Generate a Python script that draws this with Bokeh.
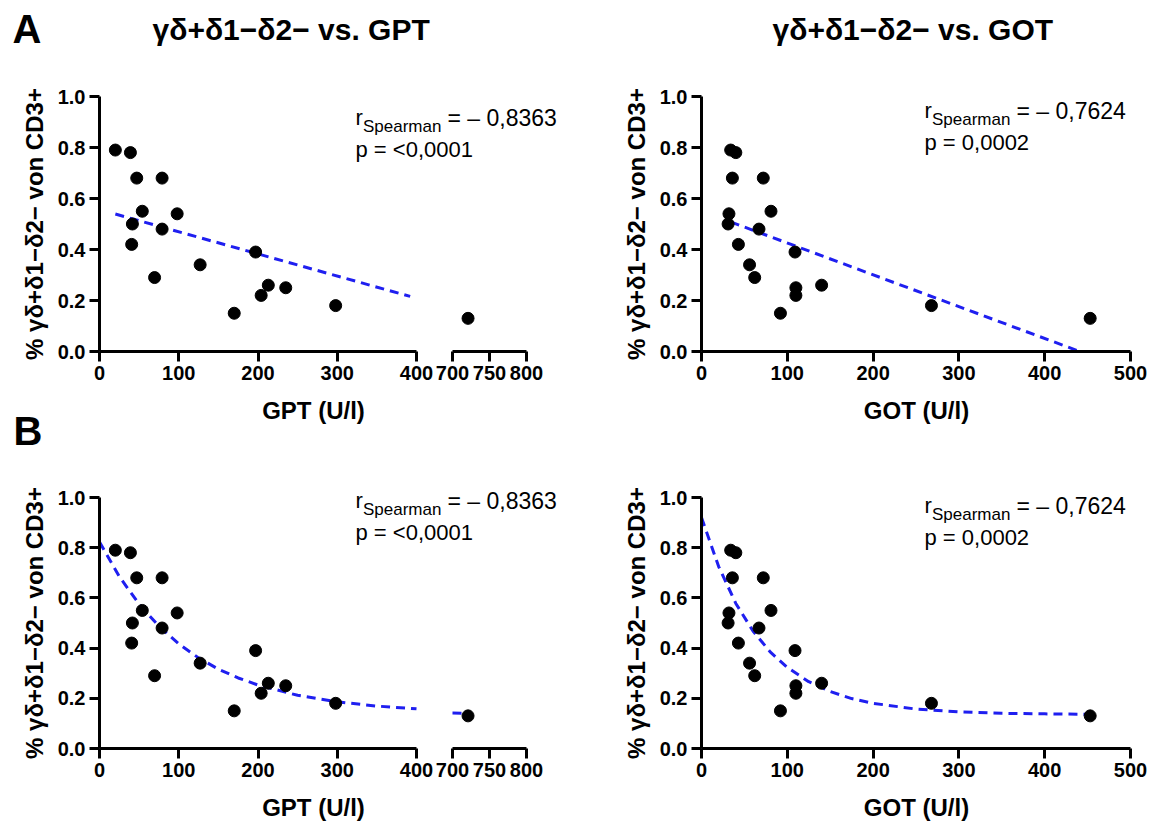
import math
from bokeh.plotting import figure
from bokeh.models import Range1d, LinearAxis, FixedTicker, Label, NumeralTickFormatter
from bokeh.layouts import column, row
from bokeh.embed import file_html
from bokeh.resources import INLINE

# ---------------- data ----------------
pct_cd3 = [0.79, 0.78, 0.68, 0.68, 0.55, 0.54, 0.50, 0.48, 0.42, 0.39,
           0.34, 0.29, 0.26, 0.25, 0.22, 0.18, 0.15, 0.13]
gpt_ul = [20, 39, 47, 79, 54, 98, 41.5, 79, 40.6, 197,
          127, 69.5, 213, 235, 204, 298, 170, 721]
got_ul = [34, 40, 36, 72, 81, 32, 31, 67, 43, 109,
          56, 62, 140, 110, 110, 268, 92, 453]

# linear regression lines (panel A)
gpt_lin_x = [20, 392]
gpt_lin_y = [0.539, 0.216]
got_lin_x = [34, 441]
got_lin_y = [0.508, 0.0]

# one-phase decay curves (panel B)
gpt_decay_x = [0, 25, 50, 75, 100, 125, 150, 175, 200, 250, 300, 350, 400]
gpt_decay_y = [0.823, 0.685, 0.575, 0.487, 0.417, 0.361, 0.316, 0.281,
               0.253, 0.212, 0.186, 0.169, 0.158]
gpt_decay_brk_x = [700, 721]
gpt_decay_brk_y = [0.141, 0.140]
got_decay_x = [0, 20, 40, 60, 80, 100, 125, 150, 175, 200, 250, 300, 350, 400, 453]
got_decay_y = [0.920, 0.725, 0.578, 0.468, 0.385, 0.323, 0.266, 0.227, 0.199,
               0.180, 0.157, 0.146, 0.140, 0.138, 0.136]

y_ticks = [0.0, 0.2, 0.4, 0.6, 0.8, 1.0]
gpt_ticks = [0, 100, 200, 300, 400]
gpt_brk_ticks = [700, 750, 800]
got_ticks = [0, 100, 200, 300, 400, 500]

title_gpt = "γδ+δ1−δ2− vs. GPT"
title_got = "γδ+δ1−δ2− vs. GOT"
y_label = "% γδ+δ1−δ2− von CD3+"
x_label_gpt = "GPT (U/l)"
x_label_got = "GOT (U/l)"
r_gpt = "= – 0,8363"
p_gpt = "p = <0,0001"
r_got = "= – 0,7624"
p_got = "p = 0,0002"

# ---------------- styling / layout constants (pixels) ----------------
FONT = "Liberation Sans"
BLUE = "#1f1ff0"
DASH = "9 6"
DOT = 12
W_GPT, W_GOT = 606, 546
H_TOP, H_BOT = 452, 370


class Frame:
    """maps canvas pixels (top-down) to data units; sizes ranges and places texts"""

    def __init__(self, W, H, xa, pxa, xb, pxb, py0, py1):
        self.ux = (xb - xa) / (pxb - pxa)
        self.x0 = xa - pxa * self.ux
        self.x1 = xa + (W - pxa) * self.ux
        self.uy = 1.0 / (py0 - py1)
        self.y0 = -(H - py0) * self.uy
        self.y1 = 1 + py1 * self.uy

    def dx(self, px):
        return self.x0 + px * self.ux

    def dy(self, py):
        return self.y1 - py * self.uy


def style_axis(ax, ticks):
    ax.ticker = FixedTicker(ticks=ticks)
    ax.axis_line_width = 3
    ax.axis_line_color = "black"
    ax.major_tick_line_width = 3
    ax.major_tick_line_color = "black"
    ax.major_tick_out = 10
    ax.major_tick_in = 0
    ax.minor_tick_line_color = None
    ax.major_label_text_font = FONT
    ax.major_label_text_font_style = "bold"
    ax.major_label_text_font_size = "20px"
    ax.major_label_text_color = "black"
    ax.major_label_standoff = 4


def text(p, fr, px, py, s, size, bold=True, align="left", angle=0.0):
    # (px, py) = canvas pixel of the text's left/centre edge and vertical middle
    p.add_layout(Label(x=fr.dx(px), y=fr.dy(py), text=s, angle=angle,
                       text_font=FONT, text_font_size=size,
                       text_font_style="bold" if bold else "normal",
                       text_align=align, text_baseline="middle",
                       text_color="black"))


def base(W, H, fr):
    p = figure(width=W, height=H, title=None,
               min_border_left=0, min_border_right=0,
               min_border_top=0, min_border_bottom=0,
               x_range=Range1d(fr.x0, fr.x1), y_range=Range1d(fr.y0, fr.y1),
               x_axis_type=None, y_axis_type=None,
               output_backend="svg", toolbar_location=None)
    p.outline_line_color = None
    p.background_fill_color = "white"
    p.border_fill_color = "white"
    ya = LinearAxis(bounds=(0, 1), fixed_location=0,
                    formatter=NumeralTickFormatter(format="0.0"))
    style_axis(ya, y_ticks)
    p.add_layout(ya, "left")
    return p


def stats(p, fr, px, py, rtxt, ptxt, dp):
    text(p, fr, px, py, "r", "22px", bold=False)
    text(p, fr, px + 7.5, py + 9, "Spearman", "17px", bold=False)
    text(p, fr, px + 92, py, rtxt, "23px", bold=False)
    text(p, fr, px, py + dp, ptxt, "22px", bold=False)


def gpt_panel(H, py1, py0, kind, sy):
    fr = Frame(W_GPT, H, 0, 99, 400, 416, py0, py1)
    br = Frame(W_GPT, H, 700, 452, 800, 526, py0, py1)
    p = base(W_GPT, H, fr)
    p.extra_x_ranges = {"brk": Range1d(br.x0, br.x1)}
    xa = LinearAxis(bounds=(0, 400), fixed_location=0)
    style_axis(xa, gpt_ticks)
    p.add_layout(xa, "below")
    xb = LinearAxis(x_range_name="brk", bounds=(700, 800), fixed_location=0)
    style_axis(xb, gpt_brk_ticks)
    p.add_layout(xb, "below")

    if kind == "lin":
        p.line(gpt_lin_x, gpt_lin_y, line_color=BLUE, line_width=3, line_dash=DASH)
    else:
        p.line(gpt_decay_x, gpt_decay_y, line_color=BLUE, line_width=3, line_dash=DASH)
        p.line(gpt_decay_brk_x, gpt_decay_brk_y, line_color=BLUE, line_width=3,
               line_dash=DASH, x_range_name="brk")
    lo_x = [g for g in gpt_ul if g <= 400]
    lo_y = [v for g, v in zip(gpt_ul, pct_cd3) if g <= 400]
    hi_x = [g for g in gpt_ul if g > 400]
    hi_y = [v for g, v in zip(gpt_ul, pct_cd3) if g > 400]
    p.scatter(lo_x, lo_y, size=DOT, color="black")
    p.scatter(hi_x, hi_y, size=DOT, color="black", x_range_name="brk")

    mid = (py0 + py1) / 2
    text(p, fr, 34, mid, y_label, "24px", align="center", angle=math.pi / 2)
    text(p, fr, 313, py0 + 59, x_label_gpt, "24px", align="center")
    stats(p, fr, 355, sy, r_gpt, p_gpt, 32)
    return p, fr


def got_panel(H, py1, py0, kind, sy):
    fr = Frame(W_GOT, H, 0, 95, 500, 524, py0, py1)
    p = base(W_GOT, H, fr)
    xa = LinearAxis(bounds=(0, 500), fixed_location=0)
    style_axis(xa, got_ticks)
    p.add_layout(xa, "below")
    if kind == "lin":
        p.line(got_lin_x, got_lin_y, line_color=BLUE, line_width=3, line_dash=DASH)
    else:
        p.line(got_decay_x, got_decay_y, line_color=BLUE, line_width=3, line_dash=DASH)
    p.scatter(got_ul, pct_cd3, size=DOT, color="black")

    mid = (py0 + py1) / 2
    text(p, fr, 30, mid, y_label, "24px", align="center", angle=math.pi / 2)
    text(p, fr, 310, py0 + 59, x_label_got, "24px", align="center")
    stats(p, fr, 318, sy, r_got, p_got, 32)
    return p, fr


# top row (A): frame y=1 at 96 px, y=0 at 351 px
a_gpt, fa = gpt_panel(H_TOP, 96, 351, "lin", 117)
a_got, fg = got_panel(H_TOP, 96, 351, "lin", 110)
text(a_gpt, fa, 12, 28, "A", "40px")
text(a_gpt, fa, 152, 29, title_gpt, "30px")
text(a_got, fg, 166, 29, title_got, "30px")
text(a_gpt, fa, 13, 430, "B", "40px")

# bottom row (B): canvas of the lower figures starts at page y = H_TOP
b_gpt, _ = gpt_panel(H_BOT, 497 - H_TOP, 748 - H_TOP, "exp", 500 - H_TOP)
b_got, _ = got_panel(H_BOT, 497 - H_TOP, 748 - H_TOP, "exp", 505 - H_TOP)

layout = column(row(a_gpt, a_got), row(b_gpt, b_got))
open("out.html", "w").write(file_html(layout, INLINE))
